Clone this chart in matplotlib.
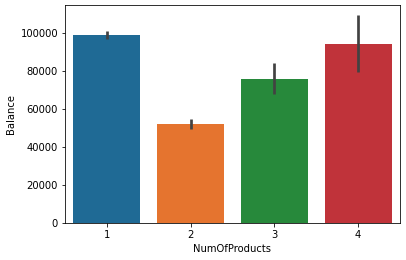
import matplotlib
matplotlib.use("Agg")
import matplotlib.pyplot as plt

products = ["1", "2", "3", "4"]
balance = [98600, 51900, 75500, 93900]
ci_low = [96900, 49600, 67700, 79200]
ci_high = [100800, 54700, 83900, 109100]

colors = ["#1f6a95", "#e5742f", "#27893b", "#c0333a"]

fig = plt.figure(figsize=(406 / 72, 260 / 72), dpi=72)
ax = fig.add_axes([65 / 406, 37 / 260, 335 / 406, 218 / 260])

x = range(len(products))
ax.bar(x, balance, width=0.8, color=colors)
ax.vlines(x, ci_low, ci_high, color=".26", linewidth=2.7)

ax.set_xticks(list(x))
ax.set_xticklabels(products)
ax.set_xlim(-0.5, len(products) - 0.5)
ax.set_ylim(0, 114500)
ax.set_xlabel("NumOfProducts")
ax.set_ylabel("Balance")

fig.savefig("out.png", dpi=72)
